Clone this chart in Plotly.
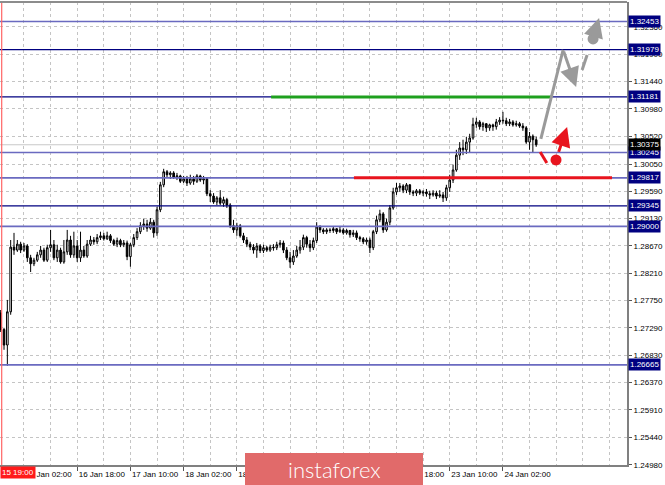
import plotly.graph_objects as go

# ---------------- data (GBPUSD H1 candles) ----------------
bar_index = list(range(162))

opens = [1.2754,1.2726,1.2700,1.2756,1.2865,1.2860,1.2870,1.2860,1.2867,1.2847,
 1.2837,1.2843,1.2852,1.2860,1.2843,1.2864,1.2869,1.2847,1.2860,1.2840,
 1.2857,1.2877,1.2852,1.2867,1.2847,1.2860,1.2850,1.2870,1.2877,1.2874,
 1.2881,1.2884,1.2879,1.2884,1.2876,1.2870,1.2876,1.2869,1.2872,1.2849,
 1.2869,1.2881,1.2891,1.2901,1.2904,1.2897,1.2907,1.2889,1.2928,1.2970,
 1.2992,1.2987,1.2990,1.2983,1.2985,1.2976,1.2980,1.2973,1.2980,1.2976,
 1.2985,1.2978,1.2980,1.2955,1.2951,1.2941,1.2948,1.2939,1.2945,1.2936,
 1.2901,1.2894,1.2901,1.2884,1.2877,1.2870,1.2865,1.2860,1.2867,1.2859,
 1.2864,1.2860,1.2865,1.2864,1.2869,1.2872,1.2860,1.2847,1.2840,1.2850,
 1.2860,1.2865,1.2881,1.2870,1.2864,1.2876,1.2899,1.2894,1.2891,1.2894,
 1.2893,1.2896,1.2891,1.2894,1.2889,1.2893,1.2886,1.2889,1.2881,1.2879,
 1.2874,1.2877,1.2864,1.2891,1.2911,1.2921,1.2894,1.2907,1.2931,1.2958,
 1.2965,1.2968,1.2961,1.2970,1.2958,1.2956,1.2960,1.2956,1.2958,1.2955,
 1.2953,1.2956,1.2951,1.2953,1.2948,1.2965,1.2978,1.2995,1.3020,1.3032,
 1.3029,1.3042,1.3049,1.3072,1.3076,1.3068,1.3073,1.3066,1.3071,1.3068,
 1.3076,1.3079,1.3078,1.3073,1.3076,1.3071,1.3073,1.3069,1.3066,1.3042,
 1.3052,1.3046]

highs = [1.2759,1.2729,1.2776,1.2877,1.2889,1.2877,1.2874,1.2872,1.2870,1.2852,
 1.2847,1.2857,1.2867,1.2864,1.2869,1.2894,1.2877,1.2869,1.2864,1.2877,
 1.2894,1.2884,1.2891,1.2877,1.2891,1.2867,1.2877,1.2884,1.2882,1.2887,
 1.2891,1.2889,1.2891,1.2887,1.2879,1.2881,1.2879,1.2877,1.2876,1.2872,
 1.2887,1.2897,1.2907,1.2913,1.2911,1.2914,1.2911,1.2933,1.2975,1.2997,
 1.2995,1.2993,1.2993,1.2990,1.2987,1.2985,1.2985,1.2987,1.2985,1.2988,
 1.2987,1.2985,1.2983,1.2961,1.2956,1.2951,1.2961,1.2950,1.2948,1.2939,
 1.2911,1.2906,1.2904,1.2889,1.2882,1.2874,1.2870,1.2872,1.2870,1.2869,
 1.2867,1.2869,1.2870,1.2874,1.2877,1.2876,1.2865,1.2857,1.2860,1.2867,
 1.2877,1.2886,1.2884,1.2877,1.2881,1.2907,1.2902,1.2897,1.2897,1.2897,
 1.2899,1.2897,1.2899,1.2897,1.2896,1.2894,1.2894,1.2893,1.2884,1.2882,
 1.2881,1.2881,1.2894,1.2918,1.2928,1.2924,1.2913,1.2936,1.2965,1.2973,
 1.2973,1.2971,1.2973,1.2971,1.2961,1.2963,1.2963,1.2961,1.2963,1.2960,
 1.2961,1.2960,1.2961,1.2958,1.2970,1.2987,1.3004,1.3029,1.3042,1.3046,
 1.3051,1.3056,1.3083,1.3083,1.3079,1.3076,1.3074,1.3073,1.3073,1.3081,
 1.3084,1.3093,1.3083,1.3081,1.3079,1.3078,1.3076,1.3074,1.3069,1.3059,
 1.3055,1.3051]

lows = [1.2722,1.2692,1.2665,1.2751,1.2852,1.2857,1.2855,1.2857,1.2840,1.2823,
 1.2833,1.2840,1.2847,1.2840,1.2840,1.2857,1.2843,1.2840,1.2837,1.2837,
 1.2852,1.2847,1.2847,1.2840,1.2840,1.2847,1.2847,1.2867,1.2869,1.2870,
 1.2877,1.2876,1.2877,1.2872,1.2867,1.2865,1.2865,1.2865,1.2843,1.2832,
 1.2865,1.2877,1.2887,1.2894,1.2891,1.2894,1.2881,1.2884,1.2924,1.2966,
 1.2982,1.2980,1.2980,1.2978,1.2973,1.2973,1.2968,1.2970,1.2970,1.2973,
 1.2975,1.2971,1.2951,1.2941,1.2938,1.2936,1.2936,1.2933,1.2931,1.2897,
 1.2889,1.2884,1.2881,1.2872,1.2865,1.2860,1.2854,1.2847,1.2855,1.2855,
 1.2857,1.2857,1.2859,1.2860,1.2864,1.2855,1.2843,1.2830,1.2835,1.2847,
 1.2854,1.2860,1.2864,1.2857,1.2860,1.2872,1.2889,1.2887,1.2887,1.2889,
 1.2889,1.2887,1.2889,1.2886,1.2886,1.2881,1.2882,1.2877,1.2874,1.2870,
 1.2869,1.2855,1.2860,1.2887,1.2907,1.2889,1.2891,1.2902,1.2928,1.2953,
 1.2958,1.2956,1.2956,1.2953,1.2951,1.2951,1.2953,1.2951,1.2950,1.2946,
 1.2950,1.2946,1.2948,1.2941,1.2943,1.2958,1.2973,1.2992,1.3012,1.3020,
 1.3022,1.3025,1.3046,1.3066,1.3063,1.3061,1.3059,1.3061,1.3061,1.3063,
 1.3071,1.3073,1.3069,1.3069,1.3068,1.3068,1.3066,1.3061,1.3039,1.3029,
 1.3024,1.3034]

closes = [1.2726,1.2700,1.2756,1.2865,1.2860,1.2870,1.2860,1.2867,1.2847,1.2837,
 1.2843,1.2852,1.2860,1.2843,1.2864,1.2869,1.2847,1.2860,1.2840,1.2857,
 1.2877,1.2852,1.2867,1.2847,1.2860,1.2850,1.2870,1.2877,1.2874,1.2881,
 1.2884,1.2879,1.2884,1.2876,1.2870,1.2876,1.2869,1.2872,1.2849,1.2869,
 1.2881,1.2891,1.2901,1.2904,1.2897,1.2907,1.2889,1.2928,1.2970,1.2992,
 1.2987,1.2990,1.2983,1.2985,1.2976,1.2980,1.2973,1.2980,1.2976,1.2985,
 1.2978,1.2980,1.2955,1.2951,1.2941,1.2948,1.2939,1.2945,1.2936,1.2901,
 1.2894,1.2901,1.2884,1.2877,1.2870,1.2865,1.2860,1.2867,1.2859,1.2864,
 1.2860,1.2865,1.2864,1.2869,1.2872,1.2860,1.2847,1.2840,1.2850,1.2860,
 1.2865,1.2881,1.2870,1.2864,1.2876,1.2899,1.2894,1.2891,1.2894,1.2893,
 1.2896,1.2891,1.2894,1.2889,1.2893,1.2886,1.2889,1.2881,1.2879,1.2874,
 1.2877,1.2864,1.2891,1.2911,1.2921,1.2894,1.2907,1.2931,1.2958,1.2965,
 1.2968,1.2961,1.2970,1.2958,1.2956,1.2960,1.2956,1.2958,1.2955,1.2953,
 1.2956,1.2951,1.2953,1.2948,1.2965,1.2978,1.2995,1.3020,1.3032,1.3029,
 1.3042,1.3049,1.3072,1.3076,1.3068,1.3073,1.3066,1.3071,1.3068,1.3076,
 1.3079,1.3078,1.3073,1.3076,1.3071,1.3073,1.3069,1.3066,1.3042,1.3052,
 1.3046,1.30375]

price_ticks = [1.32360, 1.31900, 1.31440, 1.30980, 1.30520, 1.30050, 1.29590, 1.29130,
               1.28670, 1.28210, 1.27750, 1.27290, 1.26830, 1.26370, 1.25910, 1.25440, 1.24980]
price_tick_text = ["1.32360", "1.31900", "1.31440", "1.30980", "1.30520", "1.30050", "1.29590", "1.29130",
                   "1.28670", "1.28210", "1.27750", "1.27290", "1.26830", "1.26370", "1.25910", "1.25440", "1.24980"]

time_tick_bars = [7, 23, 39, 55, 71, 87, 103, 119, 135, 151]
time_tick_labels = ["16 Jan 02:00", "16 Jan 18:00", "17 Jan 10:00", "18 Jan 02:00", "18 Jan 18:00",
                    "21 Jan 10:00", "22 Jan 02:00", "22 Jan 18:00", "23 Jan 10:00", "24 Jan 02:00"]
grid_bars_minor = [15, 31, 47, 63, 79, 95, 111, 127, 143, 159, 167, 175, 183]
first_bar_label = "15 19:00"

levels = [1.32453, 1.31979, 1.31181, 1.30245, 1.29817, 1.29345, 1.29000, 1.26665]
level_labels = ["1.32453", "1.31979", "1.31181", "1.30245", "1.29817", "1.29345", "1.29000", "1.26665"]
level_is_dark = [False, True, True, False, False, True, False, False]
bid_price = 1.30375
bid_label = "1.30375"

# target zones (bar-from, bar-to, price)
green_zone = [81.3, 165.5, 1.31181]
red_zone = [106.2, 183.8, 1.29817]

# forecast sketch (bar, price)
gray_rise = [(162.4, 1.30473), (169.1, 1.31973)]
gray_pullback = [(169.1, 1.31973), (173.0, 1.31349)]
gray_stroke = [(174.8, 1.31636), (176.3, 1.31888)]
gray_dot = (178.1, 1.32158)
gray_arrow = [(178.4, 1.32230), (179.9, 1.32512)]
red_stroke = [(162.2, 1.30254), (164.2, 1.30069)]
red_dot = (166.96, 1.30119)
red_arrow = [(167.6, 1.30230), (170.3, 1.30675)]

# ---------------- figure ----------------
W, H = 665, 485
FONT = "Liberation Sans, Arial, sans-serif"
NAVY = "#000080"
LIGHT = "#6a6ac0"
GRAY = "#9a9a9a"
RED = "#e8141e"
GRID = "#c4c4c4"

fig = go.Figure()
fig.add_trace(go.Candlestick(
    x=bar_index, open=opens, high=highs, low=lows, close=closes,
    increasing=dict(line=dict(color="#000000", width=1), fillcolor="#ffffff"),
    decreasing=dict(line=dict(color="#000000", width=1), fillcolor="#000000"),
    hoverinfo="skip", showlegend=False,
))

shapes = []
for lv, dark in zip(levels, level_is_dark):
    shapes.append(dict(type="line", xref="paper", x0=0, x1=1, yref="y", y0=lv, y1=lv,
                       line=dict(color=NAVY if dark else LIGHT, width=1.3 if dark else 1.6), layer="above"))
shapes.append(dict(type="line", xref="paper", x0=0, x1=1, yref="y", y0=bid_price, y1=bid_price,
                   line=dict(color="#c8c8c8", width=1), layer="below"))
shapes.append(dict(type="line", xref="x", yref="y", x0=green_zone[0], x1=green_zone[1],
                   y0=green_zone[2], y1=green_zone[2], line=dict(color="#1ea01e", width=3), layer="above"))
shapes.append(dict(type="line", xref="x", yref="y", x0=red_zone[0], x1=red_zone[1],
                   y0=red_zone[2], y1=red_zone[2], line=dict(color=RED, width=3), layer="above"))
shapes.append(dict(type="line", xref="x", yref="paper", x0=0.3, x1=0.3, y0=0, y1=1,
                   line=dict(color="#ff6464", width=1.2), layer="above"))
shapes.append(dict(type="line", xref="paper", yref="paper", x0=0, x1=1, y0=1, y1=1,
                   line=dict(color="#8c8c8c", width=2), layer="above"))
for seg, col in [(gray_rise, GRAY), (gray_stroke, GRAY), (red_stroke, RED)]:
    shapes.append(dict(type="line", xref="x", yref="y", x0=seg[0][0], y0=seg[0][1], x1=seg[1][0], y1=seg[1][1],
                       line=dict(color=col, width=3), layer="above"))
for dot, col in [(gray_dot, GRAY), (red_dot, RED)]:
    shapes.append(dict(type="circle", xref="x", yref="y", xsizemode="pixel", ysizemode="pixel",
                       xanchor=dot[0], yanchor=dot[1], x0=-5.5, x1=5.5, y0=-5.5, y1=5.5,
                       fillcolor=col, line=dict(color=col, width=0), layer="above"))
shapes.append(dict(type="rect", xref="paper", yref="paper", x0=245 / 627, x1=423 / 627,
                   y0=(465 - 486) / 463, y1=(465 - 453) / 463,
                   fillcolor="#e16a6a", line=dict(width=0), layer="above"))

annotations = []
for seg, col in [(gray_pullback, GRAY), (gray_arrow, GRAY), (red_arrow, RED)]:
    annotations.append(dict(x=seg[1][0], y=seg[1][1], ax=seg[0][0], ay=seg[0][1], xref="x", yref="y",
                            axref="x", ayref="y", text="", showarrow=True, arrowhead=2, arrowsize=1.3,
                            arrowwidth=3, arrowcolor=col))
for lv, lab in zip(levels, level_labels):
    annotations.append(dict(xref="paper", x=1, xanchor="left", xshift=1, yref="y", y=lv, yanchor="middle",
                            text=lab, showarrow=False, bgcolor=NAVY, borderpad=1,
                            font=dict(family=FONT, size=8, color="#ffffff")))
annotations.append(dict(xref="paper", x=1, xanchor="left", xshift=1, yref="y", y=bid_price, yanchor="middle",
                        text=bid_label, showarrow=False, bgcolor="#000000", borderpad=1,
                        font=dict(family=FONT, size=8, color="#ffffff")))
annotations.append(dict(xref="paper", x=0, xanchor="left", yref="paper", y=(465 - 472) / 463, yanchor="middle",
                        text=first_bar_label, showarrow=False, bgcolor="#ff1a1a", borderpad=1,
                        font=dict(family=FONT, size=8, color="#ffffff")))
annotations.append(dict(xref="paper", x=334 / 627, xanchor="center", yref="paper", y=(465 - 469) / 463,
                        yanchor="middle", text="instaforex", showarrow=False,
                        font=dict(family="Lato, Open Sans, sans-serif", size=22, color="#ffffff", weight=300)))

fig.update_layout(
    width=W, height=H,
    margin=dict(l=0, r=38, t=2, b=20, autoexpand=False),
    paper_bgcolor="#ffffff", plot_bgcolor="#ffffff",
    showlegend=False, hovermode=False,
    shapes=shapes, annotations=annotations,
    xaxis=dict(
        range=[-0.21, 188.3], rangeslider=dict(visible=False), automargin=False,
        tickmode="array", tickvals=time_tick_bars, ticktext=time_tick_labels,
        ticklabelposition="outside right", tickangle=0,
        ticks="outside", ticklen=4, tickcolor="#555555",
        tickfont=dict(family=FONT, size=8, color="#000000"),
        showgrid=True, gridcolor=GRID, griddash="3px,3px", gridwidth=1,
        minor=dict(tickmode="array", tickvals=grid_bars_minor, showgrid=True, gridcolor=GRID,
                   griddash="3px,3px", ticklen=0),
        showline=True, linecolor="#808080", linewidth=2,
        zeroline=False, fixedrange=True,
    ),
    yaxis=dict(
        side="right", range=[1.24978, 1.32781], automargin=False,
        tickmode="array", tickvals=price_ticks, ticktext=price_tick_text,
        ticks="outside", ticklen=3, tickcolor="#555555",
        tickfont=dict(family=FONT, size=8, color="#000000"),
        showgrid=True, gridcolor=GRID, griddash="3px,3px", gridwidth=1,
        showline=True, linecolor="#808080", linewidth=2,
        zeroline=False, fixedrange=True,
    ),
)

fig.write_html(
    "out.html",
    config={"displayModeBar": False, "staticPlot": True},
    post_script="document.body.style.margin='0';document.body.style.overflow='hidden';",
)
